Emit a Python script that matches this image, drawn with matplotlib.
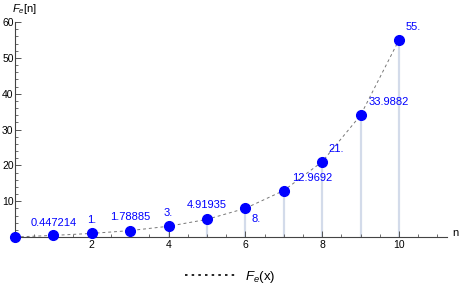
import matplotlib
matplotlib.use('Agg')
import matplotlib.pyplot as plt
from matplotlib.ticker import MultipleLocator

plt.rcParams['font.family'] = ['Liberation Sans', 'DejaVu Sans']
plt.rcParams['mathtext.fontset'] = 'custom'
plt.rcParams['mathtext.rm'] = 'Liberation Sans'
plt.rcParams['mathtext.it'] = 'Liberation Sans:italic'

# values of F_e(n) for n = 0..10
n_vals = [0, 1, 2, 3, 4, 5, 6, 7, 8, 9, 10]
fe_vals = [0, 0.447214, 1, 1.78885, 3, 4.91935, 8, 12.9692, 21, 33.9882, 55]
point_labels = ['', '0.447214', '1.', '1.78885', '3.', '4.91935', '8.',
                '12.9692', '21.', '33.9882', '55.']
x_ticks = [2, 4, 6, 8, 10]
y_ticks = [10, 20, 30, 40, 50, 60]

# label placement (offset in points, alignment) per point
label_pos = [((0, 0), 'center'), ((0, 9), 'center'), ((0, 9.5), 'center'),
             ((0, 10), 'center'), ((0, 9.5), 'center'), ((0, 10), 'center'),
             ((4.5, -7.5), 'left'), ((6, 9), 'left'), ((4.5, 9), 'left'),
             ((6, 9.5), 'left'), ((5, 9), 'left')]

blue = '#0000ff'
fig = plt.figure(figsize=(4.63, 2.98), dpi=100)
ax = fig.add_axes([15 / 463, 61 / 298, 432 / 463, 215 / 298])

ax.plot(n_vals, fe_vals, color='#777777', lw=0.7, ls=(0, (3, 3)), zorder=2)
ax.vlines(n_vals, 0, fe_vals, color='#d3dbea', lw=1.6, zorder=1)
ax.plot(n_vals, fe_vals, 'o', color=blue, ms=7, zorder=3, clip_on=False)

for n, v, lab, (off, ha) in zip(n_vals, fe_vals, point_labels, label_pos):
    if lab:
        ax.annotate(lab, (n, v), xytext=off, textcoords='offset points',
                    ha=ha, va='center', color=blue, fontsize=8)

ax.set_xlim(0, 11.25)
ax.set_ylim(0, 60)
ax.set_xticks(x_ticks)
ax.set_yticks(y_ticks)
ax.xaxis.set_minor_locator(MultipleLocator(0.5))
ax.yaxis.set_minor_locator(MultipleLocator(2))
ax.tick_params(which='both', direction='in', labelsize=7.5, color='#555555')
ax.tick_params(which='major', length=4, width=0.7, pad=2)
ax.tick_params(which='minor', length=2, width=0.6)
ax.tick_params(axis='y', pad=1)
for s in ['top', 'right']:
    ax.spines[s].set_visible(False)
for s in ['left', 'bottom']:
    ax.spines[s].set_color('#444444')
    ax.spines[s].set_linewidth(0.8)
ax.patch.set_alpha(0)

fig.text(452 / 463, 1 - 233 / 298, 'n', fontsize=8, va='center', ha='left')
fig.text(12 / 463, 1 - 9 / 298, r'$F_e$[n]', fontsize=8, va='center', ha='left')

# legend
handle, = ax.plot([], [], color='black', ls=(0, (1.5, 2.5)), lw=1.2)
fig.legend([handle], [r'$F_e$(x)'], loc='center', bbox_to_anchor=(230 / 463, 1 - 277 / 298),
           frameon=False, fontsize=9.5, handlelength=3.8, handletextpad=0.8)

fig.savefig('out.png', dpi=100)
